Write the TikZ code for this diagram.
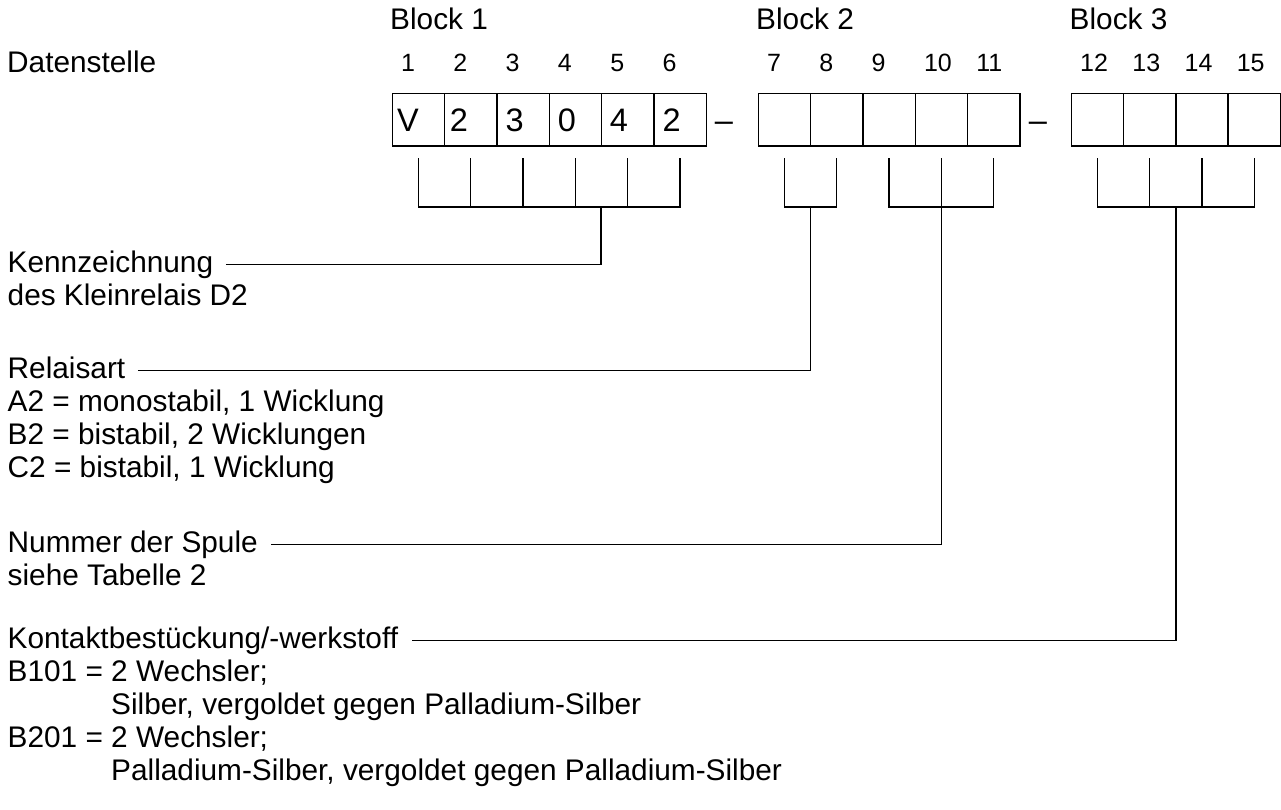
\documentclass[tikz,border=0pt]{standalone}
\usepackage{fontspec}
\setmainfont{Liberation Sans}
\usetikzlibrary{calc}
\begin{document}
\begin{tikzpicture}[x=1pt,y=-1pt,
  txt/.style={inner sep=0, anchor=base west, font=\fontsize{29.8}{33}\selectfont},
  numlbl/.style={inner sep=0, anchor=base west, font=\fontsize{25}{28}\selectfont},
  big/.style={inner sep=0, anchor=base west, font=\fontsize{32.5}{36}\selectfont},
  cell/.style={draw, line width=1.3pt, minimum width=52.33pt, minimum height=52.7pt, inner sep=0, outer sep=0},
  cellc/.style={draw, line width=1.3pt, minimum width=52.2pt, minimum height=52.7pt, inner sep=0, outer sep=0},
  wire/.style={line width=1.3pt}]
\useasboundingbox (0,0) rectangle (1281,810);

% header texts
\node[txt] (blk1) at (390,30) {Block 1};
\node[txt] (blk2) at (756,30) {Block 2};
\node[txt] (blk3) at (1069.5,30) {Block 3};
\node[txt] (dat) at (7,72.3) {Datenstelle};

% cells
\foreach \i in {1,...,6} {
  \node[cell] (b\i) at ({392.3+52.33*(\i-1)+26.165},119.65) {};
  \node[numlbl] (n\i) at ({392.3+52.33*(\i-1)+8.5},72) {\i};
}
\foreach \i in {7,...,11} {
  \node[cell] (b\i) at ({758.3+52.33*(\i-7)+26.165},119.65) {};
  \node[numlbl] (n\i) at ({758.3+52.33*(\i-7)+8.5},72) {\i};
}
\foreach \i in {12,...,15} {
  \node[cellc] (b\i) at ({1071.5+52.2*(\i-12)+26.1},119.65) {};
  \node[numlbl] (n\i) at ({1071.5+52.2*(\i-12)+8.5},72) {\i};
}

% cell contents
\node[big] (v1) at (397,131.7) {V};
\node[big] (v2) at (449.7,131.7) {2};
\node[big] (v3) at (505.3,131.7) {3};
\node[big] (v4) at (557.6,131.7) {0};
\node[big] (v5) at (609.7,131.7) {4};
\node[big] (v6) at (662.3,131.7) {2};

% dashes
\node[big, anchor=base] (d1) at (724,131.7) {–};
\node[big, anchor=base] (d2) at (1038,131.7) {–};

% bracket levels
\coordinate (tt) at (0,158.3);
\coordinate (tb) at (0,207);

% block 1 bracket
\draw[wire] (b1 |- tt) -- (b1 |- tb) -- (b6 |- tb) -- (b6 |- tt);
\foreach \i in {2,...,5} \draw[wire] (b\i |- tt) -- (b\i |- tb);
% block 2 brackets
\draw[wire] (b7 |- tt) -- (b7 |- tb) -- (b8 |- tb) -- (b8 |- tt);
\draw[wire] (b9 |- tt) -- (b9 |- tb) -- (b11 |- tb) -- (b11 |- tt);
\draw[wire] (b10 |- tt) -- (b10 |- tb);
% block 3 bracket
\draw[wire] (b12 |- tt) -- (b12 |- tb) -- (b15 |- tb) -- (b15 |- tt);
\foreach \i in {13,14} \draw[wire] (b\i |- tt) -- (b\i |- tb);

% stem tops
\coordinate (s1) at (601,207);
\coordinate (s2) at ($(b7 |- tb)!0.5!(b8 |- tb)$);
\coordinate (s3) at (b10 |- tb);
\coordinate (s4) at ($(b12 |- tb)!0.5!(b15 |- tb)$);

% description texts
\node[txt] (k1) at (7.5,272) {Kennzeichnung};
\node[txt] (k2) at (7.5,305) {des Kleinrelais D2};

\node[txt] (r1) at (7.5,378.4) {Relaisart};
\node[txt] (r2) at (7.5,411.4) {A2 = monostabil, 1 Wicklung};
\node[txt] (r3) at (7.5,444.4) {B2 = bistabil, 2 Wicklungen};
\node[txt] (r4) at (7.5,477.4) {C2 = bistabil, 1 Wicklung};

\node[txt] (m1) at (7.5,552) {Nummer der Spule};
\node[txt] (m2) at (7.5,585) {siehe Tabelle 2};

\node[txt] (c1) at (7.5,648.4) {Kontaktbestückung/-werkstoff};
\node[txt] (c2) at (7.5,681.4) {B101 = 2 Wechsler;};
\node[txt] (c3) at (111,714.4) {Silber, vergoldet gegen Palladium-Silber};
\node[txt] (c4) at (7.5,747.4) {B201 = 2 Wechsler;};
\node[txt] (c5) at (111,780.4) {Palladium-Silber, vergoldet gegen Palladium-Silber};

% connectors
\draw[wire] ([xshift=12.5pt,yshift=7.6pt]k1.base east) -| (s1);
\draw[wire] ([xshift=12.5pt,yshift=7.6pt]r1.base east) -| (s2);
\draw[wire] ([xshift=13.5pt,yshift=7.6pt]m1.base east) -| (s3);
\draw[wire] ([xshift=14pt,yshift=7.6pt]c1.base east) -| (s4);
\end{tikzpicture}
\end{document}
